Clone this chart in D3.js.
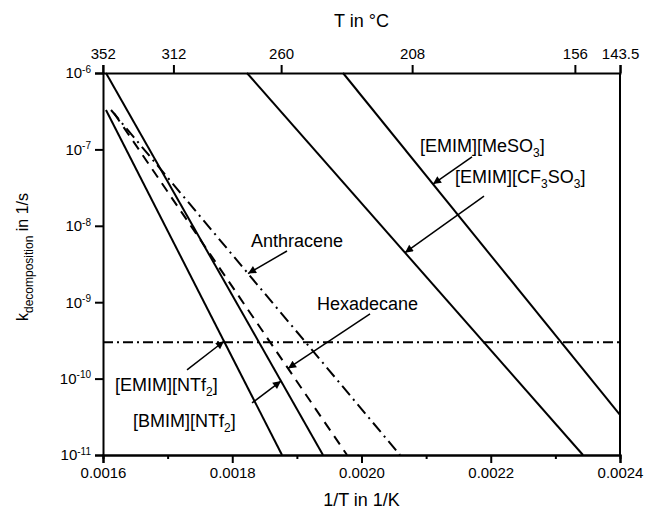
<!DOCTYPE html>
<html>
<head>
<meta charset="utf-8">
<script src="https://cdn.jsdelivr.net/npm/d3@7"></script>
<style>
  body { margin: 0; background: #fff; }
  svg text { font-family: Arial, "Liberation Sans", sans-serif; fill: #000; }
</style>
</head>
<body>
<div id="chart"></div>
<script>
// ---- data ----
const seriesNames = ["[EMIM][NTf2]", "[BMIM][NTf2]", "Hexadecane", "Anthracene", "[EMIM][CF3SO3]", "[EMIM][MeSO3]"];
const seriesDash = ["", "", "10,7", "12,5,2,5", "", ""];
// start / end of each Arrhenius line (1/T in 1/K, k in 1/s)
const invTStart = [0.0016046, 0.0016046, 0.0016170, 0.0016124, 0.0018228, 0.0019714];
const kStart    = [3.28e-7, 1e-6, 2.99e-7, 3.28e-7, 1e-6, 1e-6];
const invTEnd   = [0.001877, 0.0019404, 0.0019776, 0.0020596, 0.0023427, 0.0024];
const kEnd      = [1e-11, 1e-11, 1e-11, 1e-11, 1e-11, 3.34e-11];

const kLimit = 3e-10; // horizontal dash-dot line

// tick values
const xTicks = [0.0016, 0.0018, 0.0020, 0.0022, 0.0024];
const xMinor = [0.0017, 0.0019, 0.0021, 0.0023];
const yExps = [-6, -7, -8, -9, -10, -11];
const tempC = [352, 312, 260, 208, 156, 143.5];
const tempLabels = ["352", "312", "260", "208", "156", "143.5"];

// annotations: label anchor, arrow tail, arrow tip (on the line)
const annMain = ["[EMIM][NTf", "[BMIM][NTf", "Hexadecane", "Anthracene", "[EMIM][CF", "[EMIM][MeSO"];
const annSub  = ["2", "2", "", "", "3", "3"];
const annRest = ["]", "]", "", "", "SO", "]"];
const annSub2 = ["", "", "", "", "3", ""];
const annRest2 = ["", "", "", "", "]", ""];
const annX    = [0.0016186, 0.0016464, 0.0019311, 0.0018290, 0.0021447, 0.0020905];
const annK    = [6.89e-11, 2.32e-11, 7.91e-10, 5.28e-9, 3.63e-8, 9.25e-8];
const tailX   = [0.0017300, 0.0018306, 0.0020132, 0.0018847, 0.0021896, 0.0021710];
const tailK   = [1.30e-10, 4.80e-11, 7.02e-10, 4.68e-9, 2.45e-8, 7.96e-8];
const tipX    = [0.0017872, 0.0018754, 0.0018863, 0.0018244, 0.0020673, 0.0021106];

// ---- layout ----
const W = 645, H = 511;
const margin = { top: 73, right: 25, bottom: 56, left: 103 };

const svg = d3.select("#chart").append("svg")
  .attr("width", W)
  .attr("height", H);

const x = d3.scaleLinear().domain([0.0016, 0.0024]).range([margin.left, W - margin.right]);
const y = d3.scaleLog().domain([1e-11, 1e-6]).range([H - margin.bottom, margin.top]);

// arrow head
svg.append("defs").append("marker")
  .attr("id", "arrow")
  .attr("markerUnits", "userSpaceOnUse")
  .attr("viewBox", "0 0 10 10")
  .attr("refX", 10).attr("refY", 5)
  .attr("markerWidth", 11).attr("markerHeight", 8)
  .attr("orient", "auto")
  .append("path")
  .attr("d", "M0,0 L10,5 L0,10 z")
  .attr("fill", "#000");

// ---- axes ----
const xAxisG = svg.append("g")
  .attr("transform", `translate(0,${y.range()[0]})`)
  .call(d3.axisBottom(x).tickValues(xTicks).tickFormat(d3.format(".4f")).tickSize(8).tickPadding(4));
svg.append("g")
  .attr("transform", `translate(0,${y.range()[0]})`)
  .call(d3.axisBottom(x).tickValues(xMinor).tickFormat("").tickSize(4));

const yAxisG = svg.append("g")
  .attr("transform", `translate(${margin.left},0)`)
  .call(d3.axisLeft(y).tickValues(yExps.map(e => Math.pow(10, e))).tickSize(8).tickPadding(4).tickFormat(""));
yAxisG.selectAll(".tick text").each(function (d) {
  const t = d3.select(this);
  const e = Math.round(Math.log10(d));
  t.append("tspan").text("10");
  t.append("tspan").attr("dy", "-0.55em").style("font-size", "10px").text(e);
});

const tAxisG = svg.append("g")
  .attr("transform", `translate(0,${margin.top})`)
  .call(d3.axisTop(x)
    .tickValues(tempC.map(t => 1 / (t + 273.15)))
    .tickFormat((d, i) => tempLabels[i])
    .tickSize(8).tickPadding(6));

svg.append("line")
  .attr("x1", x.range()[1]).attr("x2", x.range()[1])
  .attr("y1", y.range()[1]).attr("y2", y.range()[0])
  .attr("stroke", "#000").attr("stroke-width", 2);

svg.selectAll(".domain").attr("stroke-width", 2).attr("stroke", "#000");
svg.selectAll(".tick line").attr("stroke-width", 2).attr("stroke", "#000");
svg.selectAll(".tick text").style("font-size", "15px");

// axis titles
svg.append("text")
  .attr("x", (x.range()[0] + x.range()[1]) / 2)
  .attr("y", 27)
  .attr("text-anchor", "middle")
  .attr("font-size", 18)
  .text("T in °C");

svg.append("text")
  .attr("x", (x.range()[0] + x.range()[1]) / 2)
  .attr("y", 506)
  .attr("text-anchor", "middle")
  .attr("font-size", 18)
  .text("1/T in 1/K");

const yt = svg.append("text")
  .attr("transform", "translate(28,257) rotate(-90)")
  .attr("text-anchor", "middle")
  .attr("font-size", 16);
yt.append("tspan").text("k");
yt.append("tspan").attr("font-size", 12).attr("dy", 5).text("decomposition");
yt.append("tspan").attr("dy", -5).text(" in 1/s");

// ---- data lines ----
const plot = svg.append("g");
const line = d3.line().x(d => x(d[0])).y(d => y(d[1]));

plot.selectAll(".series")
  .data(seriesNames)
  .join("path")
  .attr("class", "series")
  .attr("d", (d, i) => line([[invTStart[i], kStart[i]], [invTEnd[i], kEnd[i]]]))
  .attr("fill", "none")
  .attr("stroke", "#000")
  .attr("stroke-width", 2)
  .attr("stroke-dasharray", (d, i) => seriesDash[i] || null);

plot.append("path")
  .attr("d", line([[0.0016, kLimit], [0.0024, kLimit]]))
  .attr("stroke", "#000")
  .attr("stroke-width", 2)
  .attr("stroke-dasharray", "10,4,2,4");

// ---- annotations ----
function kOnLine(i, t) {
  const a = Math.log10(kStart[i]), b = Math.log10(kEnd[i]);
  return Math.pow(10, a + (b - a) * (t - invTStart[i]) / (invTEnd[i] - invTStart[i]));
}

seriesNames.forEach((name, i) => {
  plot.append("line")
    .attr("x1", x(tailX[i])).attr("y1", y(tailK[i]))
    .attr("x2", x(tipX[i])).attr("y2", y(kOnLine(i, tipX[i])))
    .attr("stroke", "#000")
    .attr("stroke-width", 1.5)
    .attr("marker-end", "url(#arrow)");

  const t = plot.append("text")
    .attr("x", x(annX[i]))
    .attr("y", y(annK[i]))
    .attr("font-size", 18);
  t.append("tspan").text(annMain[i]);
  if (annSub[i]) {
    t.append("tspan").attr("font-size", 12).attr("dy", 5).text(annSub[i]);
    t.append("tspan").attr("dy", -5).text(annRest[i]);
  }
  if (annSub2[i]) {
    t.append("tspan").attr("font-size", 12).attr("dy", 5).text(annSub2[i]);
    t.append("tspan").attr("dy", -5).text(annRest2[i]);
  }
});
</script>
</body>
</html>
